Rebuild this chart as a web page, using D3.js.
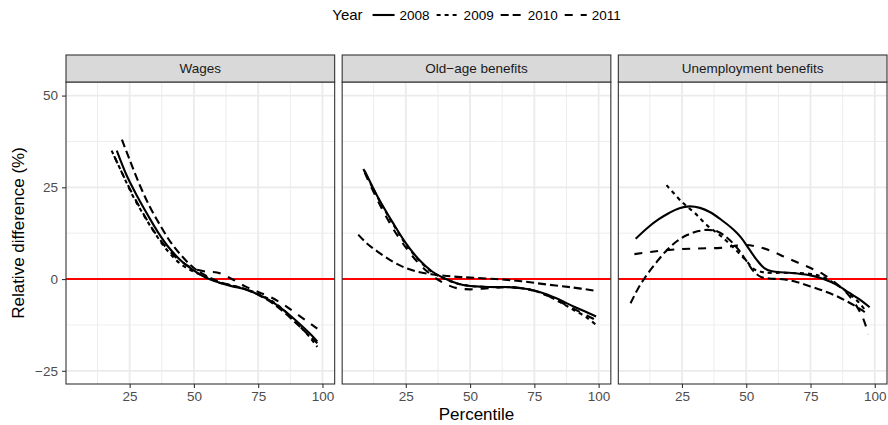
<!DOCTYPE html>
<html>
<head>
<meta charset="utf-8">
<script src="https://cdn.jsdelivr.net/npm/d3@7"></script>
<style>
  body { margin: 0; background: #fff; }
  text { font-family: "Liberation Sans", Arial, sans-serif; }
</style>
</head>
<body>
<div id="chart"></div>
<script>
// ---- data ----
const panels = ["Wages", "Old\u2212age benefits", "Unemployment benefits"];
const years = ["2008", "2009", "2010", "2011"];
const xTicks = [25, 50, 75, 100];
const yTicks = [-25, 0, 25, 50];
const xMinor = [12.5, 37.5, 62.5, 87.5];
const yMinor = [-12.5, 12.5, 37.5];

// [percentile, relative difference %]
const wages2008 = [[20, 35], [24, 28], [28, 22.5], [32, 17.5], [36, 12.8], [40, 8.8], [45, 5], [50, 2.3], [55, 0.3], [60, -1], [65, -2], [70, -2.8], [75, -4.2], [80, -6], [85, -8.5], [90, -11.5], [95, -14.8], [98, -17]];
const wages2009 = [[18, 35], [22, 29], [26, 23], [30, 18], [35, 12.3], [40, 7.5], [45, 4], [50, 2], [55, 0.5], [60, -1], [65, -1.8], [70, -2.7], [75, -4], [80, -5.8], [85, -8.5], [90, -12], [95, -15.8], [98, -18.5]];
const wages2010 = [[22, 38], [25, 32.5], [29, 25.5], [33, 19.5], [37, 14.5], [41, 10], [45, 6.5], [50, 3], [55, 0.8], [60, -0.8], [65, -1.8], [70, -2.8], [75, -4.3], [80, -6.3], [85, -9], [90, -12.2], [95, -15.5], [98, -17.5]];
const wages2011 = [[19, 33.5], [23, 27.5], [27, 22], [31, 17], [35, 12.5], [40, 8], [45, 4.8], [50, 2.8], [55, 2], [59, 1.8], [64, 0.3], [70, -2], [75, -3.5], [80, -5], [85, -7], [90, -9.5], [95, -12], [98, -13.5]];

const oldAge2008 = [[9, 29.5], [14, 22.5], [20, 15.3], [25, 9.8], [30, 5.4], [35, 2.2], [40, 0.2], [45, -1.2], [50, -1.9], [55, -2.1], [60, -2.2], [65, -2.2], [70, -2.5], [75, -3.1], [80, -4.2], [85, -5.7], [90, -7.4], [95, -8.9], [99, -10.2]];
const oldAge2009 = [[8.5, 30], [14, 22.3], [20, 15], [25, 9.5], [30, 5.2], [35, 2], [40, 0.1], [45, -1.2], [50, -1.9], [55, -2.1], [60, -2.2], [65, -2.2], [70, -2.5], [75, -3.2], [80, -4.5], [85, -6.3], [90, -8.3], [95, -10.3], [99, -12.5]];
const oldAge2010 = [[6.5, 12.1], [10, 9.6], [14, 7.5], [20, 4.7], [25, 3], [30, 1.9], [35, 1.3], [40, 0.9], [45, 0.6], [50, 0.4], [60, 0], [70, -0.6], [80, -1.5], [90, -2.3], [98, -3.1]];
const oldAge2011 = [[9, 29], [14, 21.5], [20, 13.8], [25, 8.6], [30, 4.3], [35, 1.1], [40, -1.2], [45, -2.5], [50, -2.8], [55, -2.6], [60, -2.3], [65, -2.2], [70, -2.5], [75, -3.2], [80, -4.5], [85, -6.2], [90, -8], [95, -9.8], [98.5, -11]];

const unemp2008 = [[7, 11], [12, 14.2], [16, 16.3], [20, 18], [24, 19.3], [28, 19.8], [32, 19.4], [36, 18.2], [40, 16.3], [45, 13.5], [48, 11.3], [51, 8.3], [54, 5.3], [57, 3], [60, 2.1], [65, 1.8], [70, 1.5], [75, 1], [80, 0], [85, -1.5], [90, -3.7], [95, -6], [98, -7.7]];
const unemp2009 = [[19, 25.6], [25, 21], [30, 18], [35, 14.5], [40, 11.8], [45, 8.6], [50, 5], [53, 2.7], [57, 1.8], [65, 1.7], [75, 1.4], [80, 0.5], [85, -1.5], [90, -4], [94, -6.5], [96.5, -8.8]];
const unemp2010 = [[5, -6.6], [8, -2.5], [11, 0.8], [15, 4.5], [19, 7.8], [23, 10.3], [27, 12], [31, 13], [35, 13.4], [39, 12.9], [43, 11], [47, 8], [50, 5], [53, 2], [56, 0.5], [60, 0.1], [65, -0.1], [70, -0.9], [75, -2], [80, -3.2], [85, -4.6], [90, -6.4], [95, -8.5], [97, -9.5]];
const unemp2011 = [[6.5, 6.8], [12, 7.3], [18, 7.8], [25, 8.2], [30, 8.3], [35, 8.4], [40, 8.5], [45, 9], [50, 9.3], [55, 8.7], [60, 7.6], [65, 6], [70, 4.5], [75, 3], [80, 1.3], [85, -1.2], [90, -4.5], [95, -10], [97.5, -15]];

const seriesByPanel = [
  [wages2008, wages2009, wages2010, wages2011],
  [oldAge2008, oldAge2009, oldAge2010, oldAge2011],
  [unemp2008, unemp2009, unemp2010, unemp2011]
];

// ---- layout ----
const width = 888, height = 425;
const plotLeft = 66, plotRight = 887, gap = 7.5;
const stripTop = 55, panelTop = 82, panelBottom = 384;
const pw = (plotRight - plotLeft - 2 * gap) / 3;
const ph = panelBottom - panelTop;
const dashes = [null, "4,4", "8,4", "8,8"];
const lw = 2.1;

const svg = d3.select("#chart").append("svg")
  .attr("width", width)
  .attr("height", height);

const x = d3.scaleLinear().domain([0.25, 104.75]).range([0, pw]);
const y = d3.scaleLinear().domain([-28.6, 53.7]).range([ph, 0]);

const line = d3.line()
  .x(d => x(d[0]))
  .y(d => y(d[1]))
  .curve(d3.curveCatmullRom.alpha(0.5));

panels.forEach((name, i) => {
  const px = plotLeft + i * (pw + gap);
  const g = svg.append("g").attr("transform", `translate(${px},${panelTop})`);

  // clip
  svg.append("clipPath").attr("id", "clip" + i)
    .append("rect").attr("width", pw).attr("height", ph);

  // grid
  g.selectAll(".vminor").data(xMinor).enter().append("line")
    .attr("x1", d => x(d)).attr("x2", d => x(d)).attr("y1", 0).attr("y2", ph)
    .attr("stroke", "#EBEBEB").attr("stroke-width", 0.9);
  g.selectAll(".hminor").data(yMinor).enter().append("line")
    .attr("x1", 0).attr("x2", pw).attr("y1", d => y(d)).attr("y2", d => y(d))
    .attr("stroke", "#EBEBEB").attr("stroke-width", 0.9);
  g.selectAll(".vmajor").data(xTicks).enter().append("line")
    .attr("x1", d => x(d)).attr("x2", d => x(d)).attr("y1", 0).attr("y2", ph)
    .attr("stroke", "#EBEBEB").attr("stroke-width", 1.8);
  g.selectAll(".hmajor").data(yTicks).enter().append("line")
    .attr("x1", 0).attr("x2", pw).attr("y1", d => y(d)).attr("y2", d => y(d))
    .attr("stroke", "#EBEBEB").attr("stroke-width", 1.8);

  // reference line at zero
  g.append("line")
    .attr("x1", 0).attr("x2", pw).attr("y1", y(0)).attr("y2", y(0))
    .attr("stroke", "#FF0000").attr("stroke-width", 2);

  // curves
  const curves = g.append("g").attr("clip-path", `url(#clip${i})`);
  seriesByPanel[i].forEach((data, k) => {
    curves.append("path")
      .datum(data)
      .attr("d", line)
      .attr("fill", "none")
      .attr("stroke", "#000")
      .attr("stroke-width", lw)
      .attr("stroke-dasharray", dashes[k]);
  });

  // panel border
  g.append("rect")
    .attr("width", pw).attr("height", ph)
    .attr("fill", "none").attr("stroke", "#333333").attr("stroke-width", 1.1);

  // strip
  svg.append("rect")
    .attr("x", px).attr("y", stripTop)
    .attr("width", pw).attr("height", panelTop - stripTop)
    .attr("fill", "#D9D9D9").attr("stroke", "#333333").attr("stroke-width", 1.1);
  svg.append("text")
    .attr("x", px + pw / 2).attr("y", (stripTop + panelTop) / 2)
    .attr("dy", "0.35em")
    .attr("text-anchor", "middle")
    .attr("fill", "#1A1A1A")
    .attr("font-size", "13.5px")
    .text(name);

  // x axis
  const xa = g.append("g")
    .attr("transform", `translate(0,${ph})`)
    .call(d3.axisBottom(x).tickValues(xTicks).tickSize(4).tickPadding(3));
  xa.select(".domain").remove();
  xa.selectAll(".tick line").attr("stroke", "#333333").attr("stroke-width", 1.1);
  xa.selectAll(".tick text").attr("fill", "#4D4D4D").attr("font-size", "13.5px")
    .attr("font-family", "Liberation Sans, Arial, sans-serif");

  // y axis on first panel only
  if (i === 0) {
    const ya = g.append("g")
      .call(d3.axisLeft(y).tickValues(yTicks).tickSize(4).tickPadding(4));
    ya.select(".domain").remove();
    ya.selectAll(".tick line").attr("stroke", "#333333").attr("stroke-width", 1.1);
    ya.selectAll(".tick text").attr("fill", "#4D4D4D").attr("font-size", "13.5px")
      .attr("font-family", "Liberation Sans, Arial, sans-serif");
  }
});

// axis titles
svg.append("text")
  .attr("x", (plotLeft + plotRight) / 2)
  .attr("y", 420)
  .attr("text-anchor", "middle")
  .attr("font-size", "17px")
  .text("Percentile");

svg.append("text")
  .attr("transform", `translate(18,${(panelTop + panelBottom) / 2}) rotate(-90)`)
  .attr("dy", "0.35em")
  .attr("text-anchor", "middle")
  .attr("font-size", "17px")
  .text("Relative difference (%)");

// legend, centered over the panels
const legend = svg.append("g");
const legY = 15;
const keyW = 22;
let cx = 0;
const title = legend.append("text")
  .attr("x", cx).attr("y", legY).attr("dy", "0.35em")
  .attr("font-size", "15px")
  .text("Year");
cx += title.node().getComputedTextLength() + 10;
years.forEach((yr, k) => {
  legend.append("line")
    .attr("x1", cx).attr("x2", cx + keyW)
    .attr("y1", legY).attr("y2", legY)
    .attr("stroke", "#000").attr("stroke-width", lw)
    .attr("stroke-dasharray", dashes[k]);
  cx += keyW + 5;
  const t = legend.append("text")
    .attr("x", cx).attr("y", legY).attr("dy", "0.35em")
    .attr("font-size", "13.5px")
    .text(yr);
  cx += t.node().getComputedTextLength() + (k < years.length - 1 ? 7 : 0);
});
legend.attr("transform", `translate(${(plotLeft + plotRight) / 2 - cx / 2},0)`);
</script>
</body>
</html>
